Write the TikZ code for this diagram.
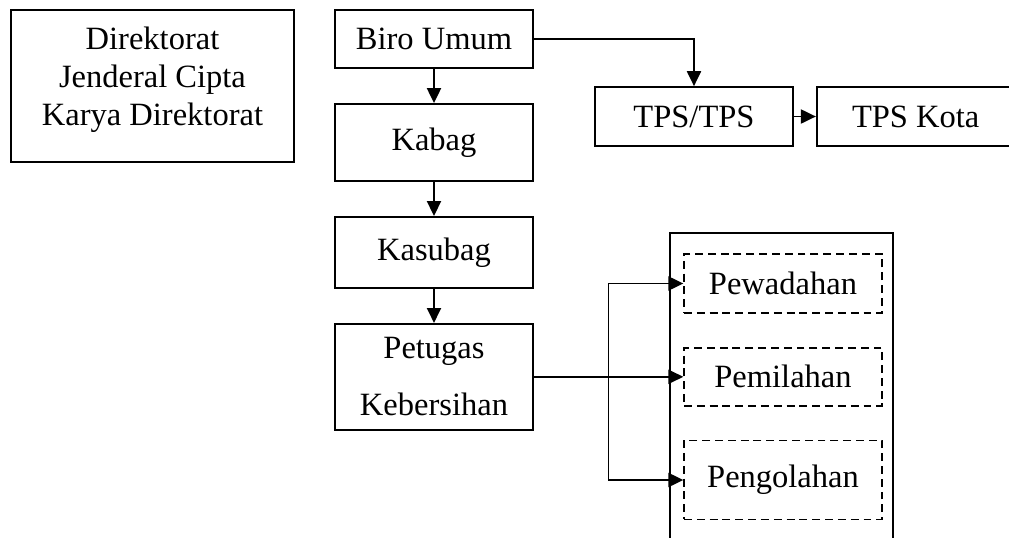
\documentclass[tikz,border=0pt]{standalone}
\usepackage{fontspec}
\setmainfont{Liberation Serif}
\usetikzlibrary{arrows.meta,calc,positioning}
\tikzset{
  kotak/.style={
    draw=black,
    line width=1pt,
    align=center,
    minimum width=3.96cm,
    inner sep=2pt,
    font=\fontsize{18.5}{21.5}\selectfont
  },
  kotakputus/.style={
    kotak,
    line width=.8pt,
    dash pattern=on 4.5pt off 2.8pt
  },
  panah/.style={
    -{Triangle[length=8.5pt,width=8pt]},
    line width=1pt,
    black
  }
}
\begin{document}
\begin{tikzpicture}[x=0.02cm,y=-0.02cm,node distance=.684cm]
\useasboundingbox (0,0) rectangle (1009,538);
% struktur
\node[kotak,minimum width=5.66cm,minimum height=3.04cm] (dirjen) at (152.5,86) {Direktorat\\Jenderal Cipta\\Karya Direktorat\rule[-11pt]{0pt}{0pt}};
\node[kotak,minimum height=1.16cm] (biro) at (434,39) {Biro Umum};
\node[kotak,minimum height=1.54cm,below=of biro] (kabag) {Kabag};
\node[kotak,minimum height=1.42cm,below=of kabag] (kasubag) {Kasubag};
\node[kotak,minimum height=2.12cm,below=of kasubag] (petugas) {Petugas\\[11pt]Kebersihan};
% TPS
\node[kotak,minimum height=1.18cm] (tps) at (694,116.5) {TPS/TPS};
\node[kotak,minimum height=1.18cm,right=.44cm of tps] (kota) {TPS Kota};
% kegiatan
\node[kotak,minimum width=4.46cm,minimum height=6.54cm] (wadah) at (781.5,396.5) {};
\node[kotakputus,minimum height=1.18cm] (pewadahan) at (783,283.5) {Pewadahan};
\node[kotakputus,minimum height=1.16cm] (pemilahan) at (petugas.east -| pewadahan) {Pemilahan};
\node[kotakputus,minimum height=1.58cm] (pengolahan) at (783,480) {Pengolahan};
\coordinate (cabang) at ($(petugas.east)!.5!(pemilahan.west)$);
\draw[panah] (biro) -- (kabag);
\draw[panah] (kabag) -- (kasubag);
\draw[panah] (kasubag) -- (petugas);
\draw[panah] (biro.east) -| (tps.north);
\draw[panah] (tps) -- (kota);
\draw[panah] (petugas.east) -- (pemilahan.west);
\draw[panah] (cabang) |- (pewadahan.west);
\draw[panah] (cabang) |- (pengolahan.west);
\end{tikzpicture}
\end{document}
